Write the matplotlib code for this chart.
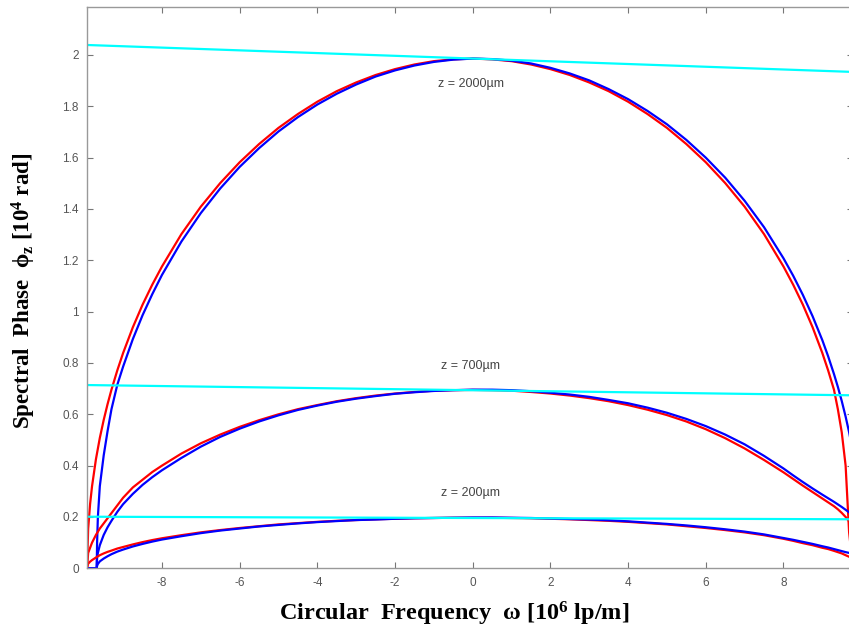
import numpy as np
import matplotlib
matplotlib.use("Agg")
import matplotlib.pyplot as plt

# circular frequency samples [1e6 lp/m]
omega_left_red = [-9.93, -9.9, -9.85, -9.8, -9.7, -9.6, -9.5, -9.4, -9.3, -9.15, -9.0,
                  -8.75, -8.5, -8.25, -8.0, -7.5, -7.0, -6.5, -6.0, -5.5, -5.0, -4.5,
                  -4.0, -3.5, -3.0, -2.5, -2.0, -1.5, -1.0, -0.5, 0.0]
omega_left_blue = [-9.93, -9.8, -9.68, -9.67, -9.65, -9.6, -9.5, -9.4, -9.3, -9.15, -9.0,
                   -8.75, -8.5, -8.25, -8.0, -7.5, -7.0, -6.5, -6.0, -5.5, -5.0, -4.5,
                   -4.0, -3.5, -3.0, -2.5, -2.0, -1.5, -1.0, -0.5, 0.0]
omega_right = [0.5, 1.0, 1.5, 2.0, 2.5, 3.0, 3.5, 4.0, 4.5, 5.0, 5.5, 6.0, 6.5, 7.0, 7.5,
               8.0, 8.25, 8.5, 8.75, 9.0, 9.15, 9.3, 9.4, 9.5, 9.6, 9.69, 9.79]

# spectral phase [1e4 rad] (red / blue curves)
red_2000 = [0.0, 0.154, 0.251, 0.320, 0.425, 0.508, 0.578, 0.640, 0.696, 0.771, 0.839,
            0.939, 1.027, 1.105, 1.176, 1.302, 1.409, 1.501, 1.582, 1.653, 1.716, 1.770,
            1.818, 1.859, 1.893, 1.922, 1.945, 1.963, 1.976, 1.983, 1.986,
            1.983, 1.976, 1.963, 1.945, 1.922, 1.893, 1.859, 1.818, 1.770, 1.716, 1.653,
            1.582, 1.501, 1.409, 1.302, 1.176, 1.105, 1.027, 0.939, 0.839, 0.771, 0.696,
            0.62, 0.53, 0.40, 0.14, 0.0]
blue_2000 = [0.0, 0.0, 0.0, 0.10, 0.20, 0.32, 0.44, 0.535, 0.62, 0.715, 0.786,
             0.893, 0.986, 1.068, 1.143, 1.273, 1.384, 1.480, 1.564, 1.637, 1.702, 1.758,
             1.807, 1.849, 1.885, 1.916, 1.940, 1.959, 1.973, 1.982, 1.986,
             1.984, 1.978, 1.967, 1.950, 1.928, 1.901, 1.867, 1.828, 1.782, 1.730, 1.669,
             1.600, 1.522, 1.432, 1.329, 1.208, 1.140, 1.065, 0.982, 0.889, 0.826, 0.757,
             0.707, 0.652, 0.591, 0.530, 0.451]
red_700 = [0.0, 0.06, 0.08, 0.10, 0.13, 0.155, 0.175, 0.195, 0.215, 0.245, 0.275,
           0.315, 0.345, 0.375, 0.400, 0.447, 0.487, 0.521, 0.551, 0.577, 0.600, 0.620,
           0.636, 0.651, 0.663, 0.673, 0.681, 0.687, 0.692, 0.694, 0.695,
           0.694, 0.692, 0.687, 0.681, 0.673, 0.663, 0.651, 0.636, 0.618, 0.597, 0.572,
           0.542, 0.507, 0.467, 0.422, 0.374, 0.348, 0.322, 0.297, 0.272, 0.257, 0.242,
           0.230, 0.216, 0.200, 0.183, 0.16]
blue_700 = [0.0, 0.0, 0.0, 0.04, 0.06, 0.09, 0.13, 0.16, 0.185, 0.22, 0.25,
            0.29, 0.325, 0.355, 0.382, 0.43, 0.474, 0.512, 0.544, 0.572, 0.596, 0.617,
            0.634, 0.649, 0.661, 0.671, 0.680, 0.686, 0.691, 0.694, 0.696,
            0.696, 0.694, 0.690, 0.684, 0.677, 0.668, 0.656, 0.643, 0.626, 0.606, 0.582,
            0.554, 0.521, 0.483, 0.438, 0.389, 0.362, 0.336, 0.311, 0.287, 0.273, 0.259,
            0.249, 0.239, 0.228, 0.218, 0.207]
red_200 = [0.0, 0.018, 0.026, 0.032, 0.042, 0.051, 0.058, 0.064, 0.069, 0.077, 0.083,
           0.093, 0.102, 0.110, 0.117, 0.129, 0.140, 0.149, 0.157, 0.164, 0.171, 0.176,
           0.181, 0.185, 0.188, 0.191, 0.193, 0.195, 0.196, 0.197, 0.197,
           0.197, 0.196, 0.195, 0.193, 0.191, 0.188, 0.185, 0.181, 0.176, 0.171, 0.164,
           0.157, 0.149, 0.140, 0.129, 0.115, 0.107, 0.098, 0.09, 0.08, 0.075, 0.068,
           0.063, 0.058, 0.051, 0.045, 0.038]
blue_200 = [0.0, 0.0, 0.0, 0.01, 0.017, 0.027, 0.038, 0.047, 0.055, 0.065, 0.073,
            0.085, 0.095, 0.104, 0.112, 0.125, 0.137, 0.147, 0.155, 0.163, 0.169, 0.175,
            0.180, 0.184, 0.188, 0.190, 0.193, 0.195, 0.196, 0.197, 0.198,
            0.198, 0.197, 0.196, 0.194, 0.192, 0.190, 0.187, 0.183, 0.178, 0.173, 0.167,
            0.160, 0.152, 0.143, 0.132, 0.118, 0.111, 0.103, 0.095, 0.086, 0.081, 0.075,
            0.071, 0.067, 0.063, 0.060, 0.056]

# cyan reference lines (end points)
cyan_x = [-9.93, 9.79]
cyan_2000 = [2.039, 1.934]
cyan_700 = [0.714, 0.674]
cyan_200 = [0.201, 0.191]

labels = ["z = 2000µm", "z = 700µm", "z = 200µm"]
label_y = [1.887, 0.79, 0.294]

plt.rcParams["axes.unicode_minus"] = False
plt.rcParams["mathtext.fontset"] = "custom"
plt.rcParams["mathtext.rm"] = "Liberation Serif:bold"
plt.rcParams["mathtext.it"] = "Liberation Serif:bold"
plt.rcParams["mathtext.bf"] = "Liberation Serif:bold"

omega_red = omega_left_red + omega_right
omega_blue = omega_left_blue + omega_right

fig = plt.figure(figsize=(8.49, 6.29), dpi=100)
ax = fig.add_axes([87 / 849, 1 - 568.3 / 629, (853 - 87) / 849, (568.3 - 7) / 629])

for r, b in [(red_2000, blue_2000), (red_700, blue_700), (red_200, blue_200)]:
    ax.plot(omega_red, r, color="#ff0000", lw=1.6)
    ax.plot(omega_blue, b, color="#0000ff", lw=1.6)
for c in (cyan_2000, cyan_700, cyan_200):
    ax.plot(cyan_x, c, color="#00ffff", lw=1.6)

for t, y in zip(labels, label_y):
    ax.text(-0.05, y, t, ha="center", va="center", fontsize=9,
            family="Liberation Sans", color="#444444")

ax.set_xlim(-9.93, 9.79)
ax.set_ylim(0, 2.187)
ax.set_xticks(np.arange(-8, 9, 2))
ax.set_yticks(np.arange(0, 2.01, 0.2))
ax.set_yticklabels(["0", "0.2", "0.4", "0.6", "0.8", "1", "1.2", "1.4", "1.6", "1.8", "2"])
ax.tick_params(direction="in", length=4, width=0.8, color="#777777",
               top=True, right=True, labelsize=8.5, labelcolor="#555555", pad=6)
for lab in ax.get_xticklabels() + ax.get_yticklabels():
    lab.set_family("Liberation Sans")
for s in ax.spines.values():
    s.set_color("#999999")
    s.set_linewidth(1.0)

ax.set_xlabel(r"Circular  Frequency  $\omega$ [10$^6$ lp/m]", fontsize=17.5,
              family="Liberation Serif", fontweight="bold")
ax.set_ylabel(r"Spectral  Phase  $\phi_z$ [10$^4$ rad]", fontsize=16.5,
              family="Liberation Serif", fontweight="bold")
ax.xaxis.set_label_coords(0.480, -0.056)
ax.yaxis.set_label_coords(-0.064, 0.494)

fig.savefig("out.png", dpi=100)
